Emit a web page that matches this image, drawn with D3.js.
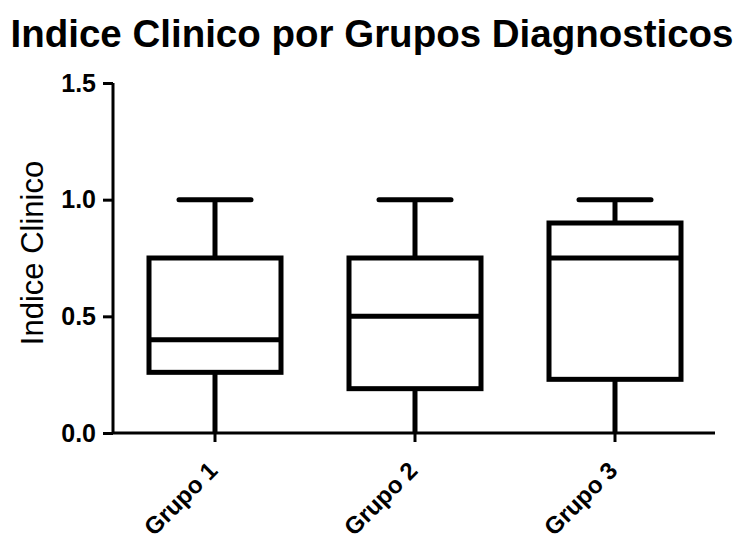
<!DOCTYPE html>
<html><head><meta charset="utf-8">
<script src="https://cdn.jsdelivr.net/npm/d3@7"></script>
<style>body{margin:0;background:#fff}svg{display:block}text{font-family:"Liberation Sans",Arial,sans-serif}</style>
</head><body>
<script>
const categories = ["Grupo 1","Grupo 2","Grupo 3"];
const mins    = [0, 0, 0];
const q1s     = [0.26, 0.19, 0.23];
const medians = [0.40, 0.50, 0.75];
const q3s     = [0.75, 0.75, 0.90];
const maxs    = [1.0, 1.0, 1.0];
const yTicks  = [0, 0.5, 1.0, 1.5];

const W=744,H=540;
const svg=d3.select("body").append("svg").attr("width",W).attr("height",H);
const x=d3.scaleBand().domain(categories).range([115,715]).padding(0);
const y=d3.scaleLinear().domain([0,1.5]).range([433,83]);

svg.append("text").attr("x",372).attr("y",47).attr("text-anchor","middle")
  .attr("font-size",38.5).attr("font-weight","bold").text("Indice Clinico por Grupos Diagnosticos");

const yAx=svg.append("g").attr("transform","translate(113,0)")
  .call(d3.axisLeft(y).tickValues(yTicks).tickFormat(d3.format(".1f")).tickSize(10).tickPadding(7));
yAx.select(".domain").attr("stroke","#000").attr("stroke-width",3).attr("d","M0,83V433");
yAx.selectAll(".tick line").attr("stroke","#000").attr("stroke-width",3);
yAx.selectAll(".tick text").attr("font-size",25).attr("font-weight","bold").attr("fill","#000")
  .style("font-family",'"Liberation Sans",Arial,sans-serif');

const xAx=svg.append("g").attr("transform","translate(0,433)")
  .call(d3.axisBottom(x).tickSize(9).tickPadding(0));
xAx.select(".domain").attr("stroke","#000").attr("stroke-width",3).attr("d","M113,0H715");
xAx.selectAll(".tick line").attr("stroke","#000").attr("stroke-width",3);
xAx.selectAll(".tick text").attr("font-size",24).attr("font-weight","bold").attr("fill","#000")
  .style("font-family",'"Liberation Sans",Arial,sans-serif')
  .attr("text-anchor","end").attr("dy",null).attr("y",0)
  .attr("transform","translate(4,39) rotate(-45)");

svg.append("text").attr("transform","translate(43,253) rotate(-90)").attr("text-anchor","middle")
  .attr("font-size",31).text("Indice Clinico");

const bw=x.bandwidth()*0.66, capW=x.bandwidth()*0.36;
const data=categories.map((c,i)=>({c,min:mins[i],q1:q1s[i],med:medians[i],q3:q3s[i],max:maxs[i]}));
const g=svg.append("g").attr("stroke","#000").attr("stroke-width",5).attr("fill","none");
data.forEach(d=>{
  const cx=x(d.c)+x.bandwidth()/2;
  g.append("line").attr("x1",cx).attr("x2",cx).attr("y1",y(d.q3)).attr("y2",y(d.max));
  g.append("line").attr("x1",cx).attr("x2",cx).attr("y1",y(d.q1)).attr("y2",y(d.min));
  g.append("line").attr("x1",cx-capW/2).attr("x2",cx+capW/2).attr("y1",y(d.max)).attr("y2",y(d.max)).attr("stroke-linecap","round");
  g.append("rect").attr("x",cx-bw/2).attr("width",bw).attr("y",y(d.q3)).attr("height",y(d.q1)-y(d.q3)).attr("fill","#fff");
  g.append("line").attr("x1",cx-bw/2).attr("x2",cx+bw/2).attr("y1",y(d.med)).attr("y2",y(d.med));
});
</script>
</body></html>
